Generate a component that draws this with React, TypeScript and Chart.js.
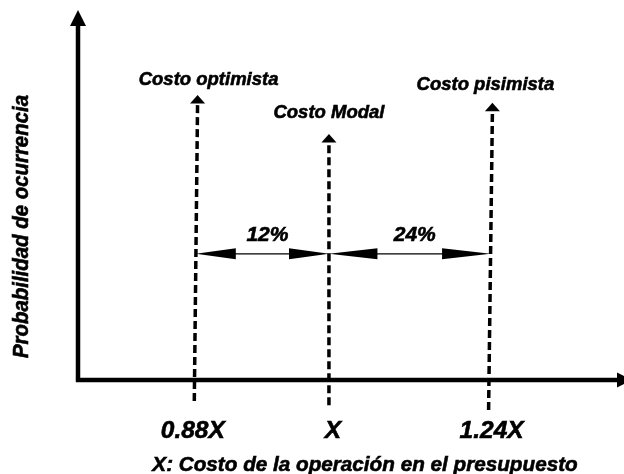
import React, { useEffect, useRef } from "react";
import { Chart, registerables } from "chart.js";

Chart.register(...registerables);

// ---- data (schematic axis units: x 0..100, y 0..100) ----
const markerNames = ["Costo optimista", "Costo Modal", "Costo pisimista"];
const tickLabels = ["0.88X", "X", "1.24X"];
const markerXTop = [21.9, 45.96, 75.9];
const markerXBottom = [21.3, 45.96, 75.2];
const markerTipY = [77.0, 66.5, 74.9];
const markerBottomY = [-5.7, -6.8, -8.1];
const spreadLabels = ["12%", "24%"];
const spreadY = 34.1;
const xAxisTitle = "X: Costo de la operación en el presupuesto";
const yAxisTitle = "Probabilidad de ocurrencia";

// ---- styling / layout ----
const FONT = '"Liberation Sans", Arial, Helvetica, sans-serif';
const HEAD_LEN = 8;
const HEAD_HALF = 7.5;
const nameOffsets = [
  { dx: 11, dy: -15 },
  { dx: 0, dy: -21 },
  { dx: -7, dy: -18 },
];
const tickOffsetsX = [-1.5, 4, 3];

function fillTri(ctx: CanvasRenderingContext2D, pts: number[][]) {
  ctx.beginPath();
  ctx.moveTo(pts[0][0], pts[0][1]);
  ctx.lineTo(pts[1][0], pts[1][1]);
  ctx.lineTo(pts[2][0], pts[2][1]);
  ctx.closePath();
  ctx.fill();
}

function heavyText(ctx: CanvasRenderingContext2D, t: string, x: number, y: number) {
  ctx.fillText(t, x, y);
  ctx.lineWidth = 0.6;
  ctx.strokeText(t, x, y);
}

const diagramPlugin = {
  id: "diagram",
  beforeDatasetsDraw(chart: any) {
    const ctx: CanvasRenderingContext2D = chart.ctx;
    const { left, right, top, bottom } = chart.chartArea;
    ctx.save();
    ctx.strokeStyle = "#000";
    ctx.fillStyle = "#000";
    ctx.lineWidth = 4.5;
    ctx.setLineDash([]);
    // y axis
    ctx.beginPath();
    ctx.moveTo(left, bottom + 2);
    ctx.lineTo(left, top + 14);
    ctx.stroke();
    fillTri(ctx, [
      [left, top],
      [left - 8, top + 16],
      [left + 8, top + 16],
    ]);
    // x axis
    ctx.beginPath();
    ctx.moveTo(left - 2, bottom);
    ctx.lineTo(right - 6, bottom);
    ctx.stroke();
    fillTri(ctx, [
      [right + 8, bottom],
      [right - 7, bottom - 7.5],
      [right - 7, bottom + 7.5],
    ]);
    ctx.restore();
  },
  afterDatasetsDraw(chart: any) {
    const ctx: CanvasRenderingContext2D = chart.ctx;
    const xs = chart.scales.x;
    const ys = chart.scales.y;
    const { bottom } = chart.chartArea;
    ctx.save();
    ctx.fillStyle = "#000";
    ctx.strokeStyle = "#000";
    ctx.setLineDash([]);

    // arrowheads on dashed marker lines + labels
    markerNames.forEach((name, i) => {
      const x = xs.getPixelForValue(markerXTop[i]);
      const y = ys.getPixelForValue(markerTipY[i]);
      fillTri(ctx, [
        [x, y],
        [x - HEAD_HALF, y + HEAD_LEN + 0.5],
        [x + HEAD_HALF, y + HEAD_LEN + 0.5],
      ]);
      ctx.font = `italic bold 18.5px ${FONT}`;
      ctx.textAlign = "center";
      ctx.textBaseline = "middle";
      heavyText(ctx, name, x + nameOffsets[i].dx, y + nameOffsets[i].dy);
    });

    // double arrows between markers
    const ySp = ys.getPixelForValue(spreadY);
    const xAt = (k: number) => {
      const xt = xs.getPixelForValue(markerXTop[k]);
      const xb = xs.getPixelForValue(markerXBottom[k]);
      const yt = ys.getPixelForValue(markerTipY[k]);
      const yb = ys.getPixelForValue(markerBottomY[k]);
      return xt + ((xb - xt) * (ySp - yt)) / (yb - yt);
    };
    spreadLabels.forEach((lab, i) => {
      const x1 = xAt(i);
      const x2 = xAt(i + 1);
      const len = (x2 - x1) * 0.3;
      const half = 5.5;
      ctx.lineWidth = 1.2;
      ctx.beginPath();
      ctx.moveTo(x1 + len - 1, ySp);
      ctx.lineTo(x2 - len + 1, ySp);
      ctx.stroke();
      fillTri(ctx, [
        [x1, ySp],
        [x1 + len, ySp - half],
        [x1 + len, ySp + half],
      ]);
      fillTri(ctx, [
        [x2, ySp],
        [x2 - len, ySp - half],
        [x2 - len, ySp + half],
      ]);
      ctx.font = `italic bold 21px ${FONT}`;
      ctx.textAlign = "center";
      ctx.textBaseline = "middle";
      heavyText(ctx, lab, (x1 + x2) / 2 + 5, ySp - 19);
    });

    // tick labels
    ctx.font = `italic bold 24.5px ${FONT}`;
    ctx.textAlign = "center";
    ctx.textBaseline = "middle";
    tickLabels.forEach((t, i) => {
      const x = xs.getPixelForValue(markerXBottom[i]);
      heavyText(ctx, t, x + tickOffsetsX[i], bottom + 51.5);
    });

    // x axis title
    ctx.font = `italic bold 20.7px ${FONT}`;
    heavyText(ctx, xAxisTitle, 365, bottom + 85);

    // y axis title (taller glyphs, fitted to the measured length)
    ctx.save();
    ctx.translate(22, 226.5);
    ctx.rotate(-Math.PI / 2);
    ctx.font = `italic bold 22px ${FONT}`;
    const w = ctx.measureText(yAxisTitle).width;
    ctx.scale(263 / w, 1);
    heavyText(ctx, yAxisTitle, 0, 0);
    ctx.restore();

    ctx.restore();
  },
};

export default function App() {
  const ref = useRef<HTMLCanvasElement>(null);
  useEffect(() => {
    if (!ref.current) return;
    const datasets = markerNames.map((name, i) => ({
      label: name,
      data: [
        { x: markerXBottom[i], y: markerBottomY[i] },
        { x: markerXTop[i], y: markerTipY[i] - 2.3 },
      ],
      showLine: true,
      borderColor: "#000",
      borderWidth: 3.5,
      borderDash: [8, 4],
      pointRadius: 0,
      clip: false as any,
    }));
    const chart = new Chart(ref.current, {
      type: "scatter",
      data: { datasets },
      options: {
        responsive: false,
        animation: false,
        layout: { padding: { left: 78, right: 0, top: 10, bottom: 94 } },
        scales: {
          x: { type: "linear", min: 0, max: 100, display: false },
          y: { type: "linear", min: 0, max: 100, display: false },
        },
        plugins: { legend: { display: false }, tooltip: { enabled: false } },
      },
      plugins: [diagramPlugin],
    });
    return () => chart.destroy();
  }, []);
  return (
    <div style={{ position: "absolute", left: 0, top: 0, width: 624, height: 474, background: "#fff" }}>
      <canvas ref={ref} width={624} height={474} />
    </div>
  );
}
